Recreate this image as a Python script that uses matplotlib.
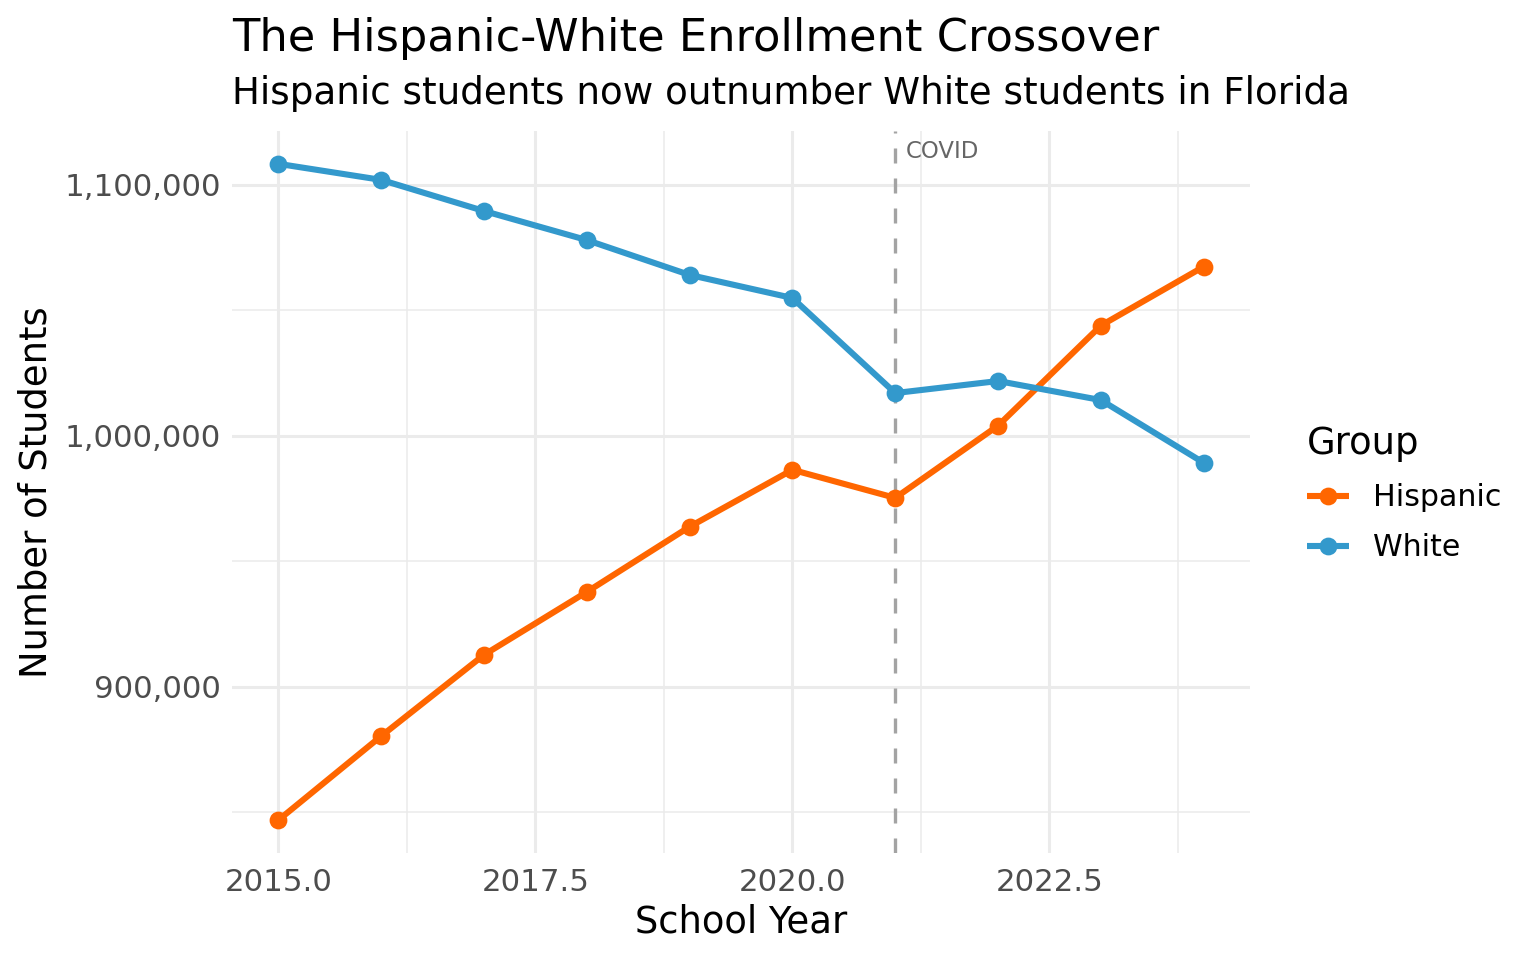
import matplotlib
matplotlib.use("Agg")
import matplotlib.pyplot as plt
from matplotlib.ticker import FuncFormatter, MultipleLocator

years = [2015, 2016, 2017, 2018, 2019, 2020, 2021, 2022, 2023, 2024]
hispanic = [846700, 880200, 912600, 937700, 963700, 986400, 975200, 1004000, 1043900, 1067400]
white = [1108400, 1102000, 1089600, 1078000, 1064100, 1054900, 1017000, 1021800, 1014200, 989200]
groups = ["Hispanic", "White"]
colors = {"Hispanic": "#FF6600", "White": "#3399CC"}
covid_year = 2021

plt.rcParams['font.family'] = ['DejaVu Sans']
fig = plt.figure(figsize=(7.68, 4.8), dpi=200)
ax = fig.add_axes([232/1536, 1-853/960, (1250-232)/1536, (853-131)/960])

for name, vals in zip(groups, [hispanic, white]):
    ax.plot(years, vals, color=colors[name], lw=2.2, marker='o', ms=5.4,
            label=name, solid_capstyle='butt', zorder=3)

ax.axvline(covid_year, color='#A3A3A3', lw=1.2, ls=(0, (4.5, 4.5)), zorder=2)
ax.text(covid_year + 0.1, 1113500, "COVID", fontsize=8.2, color='#666666',
        ha='left', va='center')

xmin, xmax = min(years), max(years)
xr = xmax - xmin
ax.set_xlim(xmin - 0.05*xr, xmax + 0.05*xr)
allv = hispanic + white
ymn, ymx = min(allv), max(allv)
yr = ymx - ymn
ax.set_ylim(ymn - 0.05*yr, ymx + 0.05*yr)

ax.xaxis.set_major_locator(MultipleLocator(2.5))
ax.xaxis.set_minor_locator(MultipleLocator(1.25))
ax.yaxis.set_major_locator(MultipleLocator(100000))
ax.yaxis.set_minor_locator(MultipleLocator(50000))
ax.xaxis.set_major_formatter(FuncFormatter(lambda v, p: f"{v:.1f}"))
ax.yaxis.set_major_formatter(FuncFormatter(lambda v, p: f"{int(round(v)):,}"))

ax.grid(which='major', color='#EBEBEB', lw=1.1)
ax.grid(which='minor', color='#EBEBEB', lw=0.55)
ax.set_axisbelow(True)
for s in ax.spines.values():
    s.set_visible(False)
ax.tick_params(which='both', length=0, labelsize=11.1, labelcolor='#4D4D4D')
ax.tick_params(axis='x', pad=5.5)
ax.tick_params(axis='y', pad=4)

ax.set_xlabel("School Year", fontsize=13.3)
ax.set_ylabel("Number of Students", fontsize=13.3)
ax.xaxis.set_label_coords(0.5, -0.07)
ax.yaxis.set_label_coords(-0.174, 0.5)

fig.text(232/1536, 1-38/960, "The Hispanic-White Enrollment Crossover", fontsize=16.1,
         ha='left', va='center')
fig.text(232/1536, 1-93/960, "Hispanic students now outnumber White students in Florida",
         fontsize=13.43, ha='left', va='center')

leg = ax.legend(title="Group", loc='center left', bbox_to_anchor=(1280/1536, 1-494/960),
                bbox_transform=fig.transFigure, frameon=False, fontsize=10.8,
                title_fontsize=13.3, handlelength=1.4, handletextpad=0.8, labelspacing=0.7)
leg._legend_box.align = "left"

fig.savefig("out.png", dpi=200)
